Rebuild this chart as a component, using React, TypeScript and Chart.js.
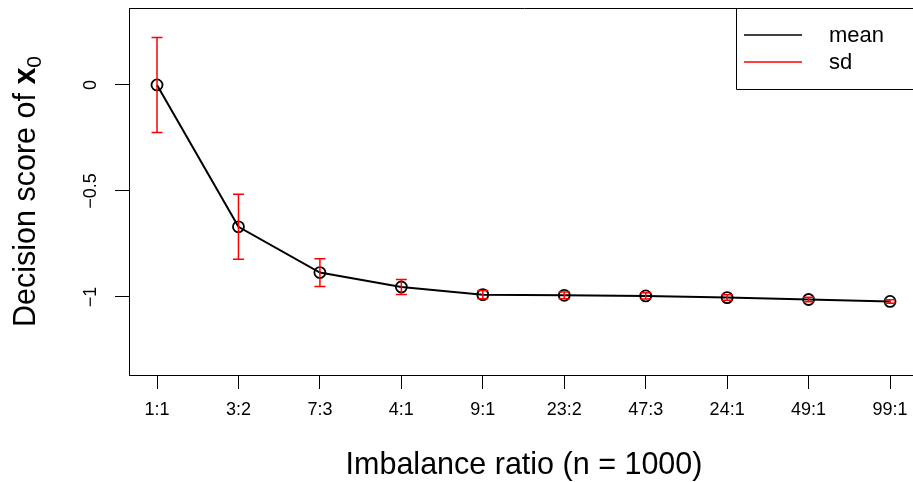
import React, { useEffect, useRef } from 'react';
import { Chart, registerables } from 'chart.js';
Chart.register(...registerables);

const categories = ['1:1', '3:2', '7:3', '4:1', '9:1', '23:2', '47:3', '24:1', '49:1', '99:1'];
const meanValues = [0, -0.669, -0.885, -0.953, -0.989, -0.992, -0.995, -1.003, -1.012, -1.021];
const sdValues = [0.224, 0.153, 0.065, 0.035, 0.019, 0.016, 0.015, 0.013, 0.011, 0.008];
const yTickValues = [-1, -0.5, 0];
const yTickLabels = ['\u22121', '\u22120.5', '0'];
const legendLabels = ['mean', 'sd'];
const xTitle = 'Imbalance ratio (n = 1000)';
const yTitleMain = 'Decision score of ';
const yTitleVar = 'x';
const yTitleSub = '0';

const FONT = "'Liberation Sans', Arial, Helvetica, sans-serif";

export default function App() {
  const ref = useRef<HTMLCanvasElement>(null);

  useEffect(() => {
    const canvas = ref.current!;
    const decor = {
      id: 'decor',
      afterDatasetsDraw(chart: any) {
        const ctx = chart.ctx;
        const xs = chart.scales.x;
        const ys = chart.scales.y;
        ctx.save();
        ctx.strokeStyle = '#ff0000';
        ctx.lineWidth = 1.5;
        meanValues.forEach((m, i) => {
          const px = xs.getPixelForValue(i);
          const top = ys.getPixelForValue(m + sdValues[i]);
          const bot = ys.getPixelForValue(m - sdValues[i]);
          ctx.beginPath();
          ctx.moveTo(px, top);
          ctx.lineTo(px, bot);
          ctx.moveTo(px - 5.5, top);
          ctx.lineTo(px + 5.5, top);
          ctx.moveTo(px - 5.5, bot);
          ctx.lineTo(px + 5.5, bot);
          ctx.stroke();
        });
        ctx.restore();
      },
      afterDraw(chart: any) {
        const ctx = chart.ctx;
        const area = chart.chartArea;
        const ys = chart.scales.y;
        ctx.save();
        // top border of box
        ctx.strokeStyle = '#000';
        ctx.lineWidth = 1;
        ctx.beginPath();
        ctx.moveTo(area.left, Math.round(area.top) + 0.5);
        ctx.lineTo(area.right, Math.round(area.top) + 0.5);
        ctx.stroke();

        // y tick labels (rotated, parallel to axis)
        ctx.fillStyle = '#000';
        ctx.font = `18px ${FONT}`;
        ctx.textAlign = 'center';
        ctx.textBaseline = 'alphabetic';
        yTickValues.forEach((v, i) => {
          const py = ys.getPixelForValue(v);
          ctx.save();
          ctx.translate(96, py);
          ctx.rotate(-Math.PI / 2);
          ctx.fillText(yTickLabels[i], 0, 0);
          ctx.restore();
        });

        // y title with bold x and subscript 0
        const mainFont = `30.5px ${FONT}`;
        const varFont = `bold 30.5px ${FONT}`;
        const subFont = `21px ${FONT}`;
        ctx.font = mainFont;
        const w1 = ctx.measureText(yTitleMain).width;
        ctx.font = varFont;
        const w2 = ctx.measureText(yTitleVar).width;
        ctx.font = subFont;
        const w3 = ctx.measureText(yTitleSub).width;
        const total = w1 + w2 + w3;
        const cy = (area.top + area.bottom) / 2;
        ctx.save();
        ctx.translate(35, cy);
        ctx.rotate(-Math.PI / 2);
        ctx.textAlign = 'left';
        let x0 = -total / 2;
        ctx.font = mainFont;
        ctx.fillText(yTitleMain, x0, 0);
        x0 += w1;
        ctx.font = varFont;
        ctx.fillText(yTitleVar, x0, 0);
        x0 += w2;
        ctx.font = subFont;
        ctx.fillText(yTitleSub, x0, 6);
        ctx.restore();

        // x title
        ctx.font = `30.5px ${FONT}`;
        ctx.textAlign = 'center';
        ctx.textBaseline = 'alphabetic';
        ctx.fillText(xTitle, 524, 474);

        // legend
        ctx.strokeStyle = '#000';
        ctx.lineWidth = 1;
        ctx.beginPath();
        ctx.moveTo(area.right + 5, Math.round(area.top) + 0.5);
        ctx.lineTo(736.5, Math.round(area.top) + 0.5);
        ctx.lineTo(736.5, 89.5);
        ctx.lineTo(area.right + 5, 89.5);
        ctx.stroke();
        const colors = ['#000000', '#ff0000'];
        const rows = [35, 62];
        legendLabels.forEach((lab, i) => {
          ctx.strokeStyle = colors[i];
          ctx.lineWidth = 1.5;
          ctx.beginPath();
          ctx.moveTo(744, rows[i]);
          ctx.lineTo(802, rows[i]);
          ctx.stroke();
          ctx.fillStyle = '#000';
          ctx.font = `22px ${FONT}`;
          ctx.textAlign = 'left';
          ctx.textBaseline = 'middle';
          ctx.fillText(lab, 829, rows[i] + 1);
        });
        ctx.restore();
      },
    };

    const chart = new Chart(canvas, {
      type: 'line',
      data: {
        datasets: [
          {
            label: 'mean',
            data: meanValues.map((y, i) => ({ x: i, y })),
            borderColor: '#000',
            borderWidth: 2,
            tension: 0,
            pointRadius: 5.5,
            pointBorderWidth: 1.8,
            pointBorderColor: '#000',
            pointBackgroundColor: 'rgba(0,0,0,0)',
            fill: false,
          },
        ],
      },
      options: {
        responsive: false,
        animation: false,
        devicePixelRatio: 1,
        layout: { autoPadding: false, padding: { top: 8, left: 0, right: 0, bottom: 0 } },
        plugins: { legend: { display: false }, tooltip: { enabled: false } },
        events: [],
        scales: {
          x: {
            type: 'linear',
            min: -0.344,
            max: 9.368,
            afterBuildTicks: (s: any) => {
              s.ticks = categories.map((_, i) => ({ value: i }));
            },
            afterFit: (s: any) => {
              s.height = 107;
              s.paddingLeft = 0;
              s.paddingRight = 0;
            },
            ticks: {
              callback: (_v: any, i: number) => categories[i],
              autoSkip: false,
              maxRotation: 0,
              minRotation: 0,
              color: '#000',
              padding: 10,
              font: { family: FONT, size: 18 },
            },
            grid: {
              display: true,
              drawOnChartArea: false,
              drawTicks: true,
              tickLength: 14,
              color: '#000',
              lineWidth: 1,
            },
            border: { display: true, color: '#000', width: 1 },
          },
          y: {
            type: 'linear',
            min: -1.368,
            max: 0.363,
            afterBuildTicks: (s: any) => {
              s.ticks = yTickValues.map((v) => ({ value: v }));
            },
            afterFit: (s: any) => {
              s.width = 129;
              s.paddingTop = 0;
              s.paddingBottom = 0;
            },
            ticks: { display: false },
            grid: {
              display: true,
              drawOnChartArea: false,
              drawTicks: true,
              tickLength: 14,
              color: '#000',
              lineWidth: 1,
            },
            border: { display: true, color: '#000', width: 1 },
          },
        },
      },
      plugins: [decor],
    });
    return () => chart.destroy();
  }, []);

  return (
    <div style={{ position: 'fixed', left: 0, top: 0, width: 913, height: 482, overflow: 'hidden', background: '#fff' }}>
      <canvas ref={ref} width={920} height={482} style={{ display: 'block' }} />
    </div>
  );
}
